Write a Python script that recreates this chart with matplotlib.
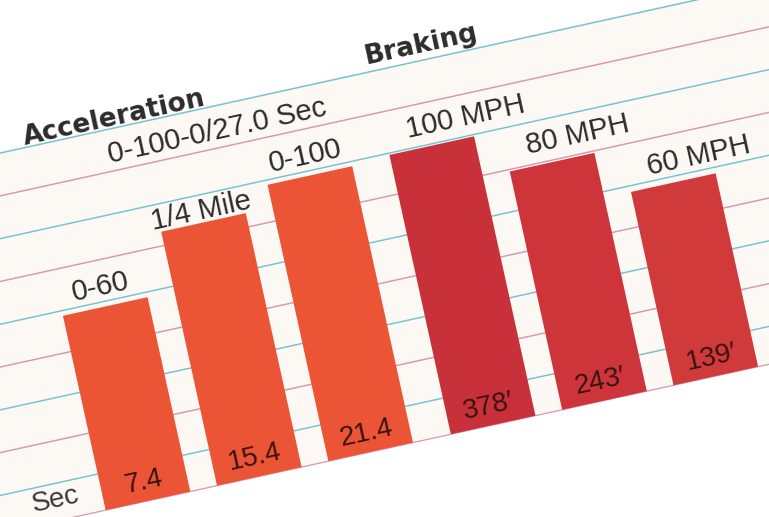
import matplotlib
matplotlib.use("Agg")
import matplotlib.pyplot as plt
from matplotlib.transforms import Affine2D
from matplotlib.patches import Rectangle

# ---------------- data ----------------
categories = ["0-60", "1/4 Mile", "0-100", "100 MPH", "80 MPH", "60 MPH"]
groups = ["Acceleration", "Acceleration", "Acceleration", "Braking", "Braking", "Braking"]
value_labels = ["7.4", "15.4", "21.4", "378\u2032", "243\u2032", "139\u2032"]
# drawn bar lengths as they appear on the page (the original is not to scale)
bar_lengths = [199, 260, 283, 286, 244, 198]
group_titles = ["Acceleration", "Braking"]
subtitle = "0-100-0/27.0 Sec"
unit_label = "Sec"

# ---------------- styling / layout ----------------
ANGLE = 12.4            # the page is photographed tilted
SLOT = 114.0            # px per bar slot
GROUP_GAP = 0.1
BAR_W = 0.76
U0, V0 = 148.0, -16.0   # chart origin in un-rotated page pixels
ACC_COLOR = "#EC5436"
BRK_COLORS = ["#C8303A", "#CE353A", "#D03A3B"]
TEAL = "#74C2D0"
PINK = "#D896B2"
TEXT = "#2c2c2c"
VAL_TEXT = "#3a1410"
LABEL_FONT = ["Liberation Sans", "DejaVu Sans"]
LABEL_NUDGE = {"1/4 Mile": -9}   # small per-label vertical nudges seen on the page

fig = plt.figure(figsize=(7.69, 5.17), dpi=100)
ax = fig.add_axes([0, 0, 1, 1])
ax.set_xlim(0, 769)
ax.set_ylim(0, 517)
ax.axis("off")

rot = Affine2D().rotate_deg(ANGLE) + ax.transData
chart = Affine2D().scale(SLOT, 1.0).translate(U0, V0) + rot

# slot positions: groups separated by a small gap
slots = []
for i, g in enumerate(groups):
    gi = group_titles.index(g)
    slots.append(i + GROUP_GAP * gi)

# ruled paper background
ax.add_patch(Rectangle((-400, V0), 1800, 373, facecolor="#FCF8F3",
                       edgecolor="none", transform=rot, zorder=0))
for k in range(0, 9):
    v = 21 + 41.8 * k
    ax.plot([-400, 1400], [v, v], color=TEAL if k % 2 == 0 else PINK,
            lw=1.05, transform=rot, zorder=1, solid_capstyle="butt")
ax.plot([-400, 1400], [V0, V0], color=PINK, lw=0.9, transform=rot, zorder=1)

# bars
colors = []
bi = 0
for g in groups:
    if g == "Acceleration":
        colors.append(ACC_COLOR)
    else:
        colors.append(BRK_COLORS[bi])
        bi += 1
ax.bar(slots, bar_lengths, width=BAR_W, color=colors, edgecolor="none",
       transform=chart, zorder=2)

common = dict(rotation=ANGLE, rotation_mode="anchor", va="baseline",
              transform=chart)

# category labels
for s, h, cat, g in zip(slots, bar_lengths, categories, groups):
    dy = LABEL_NUDGE.get(cat, 0)
    if g == "Acceleration":
        ax.text(s, h + 12 + dy, cat, ha="center", fontsize=21, color=TEXT,
                family=LABEL_FONT, zorder=3, **common)
    else:
        ax.text(s - BAR_W / 2 + 0.19, h + 13 + dy, cat, ha="left", fontsize=21,
                color=TEXT, family=LABEL_FONT, zorder=3, **common)

# value labels inside bars
for s, lab in zip(slots, value_labels):
    ax.text(s, 12, lab, ha="center", fontsize=20, color=VAL_TEXT,
            family=LABEL_FONT, zorder=3, **common)

# unit
ax.text(-1.0, 14, unit_label, ha="left", fontsize=20, color="#3a3a3a",
        family=LABEL_FONT, zorder=3, **common)

# group titles
ax.text(slots[0] - BAR_W / 2, 374, group_titles[0], ha="left", fontsize=19,
        fontweight="bold", color=TEXT, family=["DejaVu Sans"], zorder=3, **common)
ax.text(slots[3] - BAR_W / 2 - 0.03, 380, group_titles[1], ha="left", fontsize=19,
        fontweight="bold", color=TEXT, family=["DejaVu Sans"], zorder=3, **common)

# subtitle
ax.text(0.31, 338, subtitle, ha="left", fontsize=21, color=TEXT,
        family=LABEL_FONT, zorder=3, **common)

fig.savefig("out.png", dpi=100)
